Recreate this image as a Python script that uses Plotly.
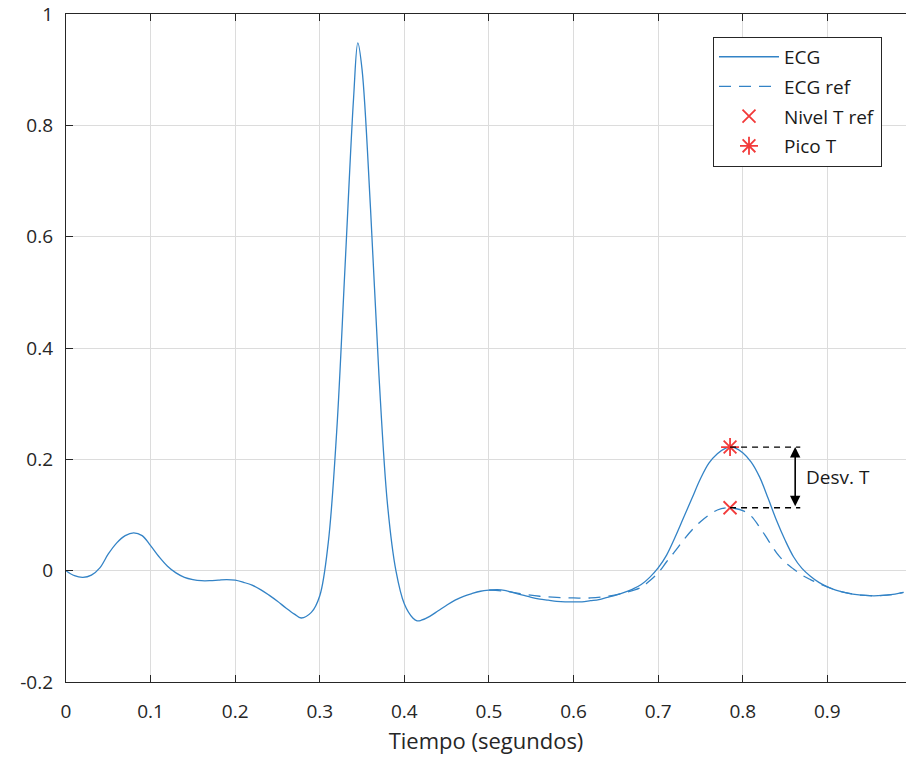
import plotly.graph_objects as go

# ---- data ----
t_ecg = [0.00, 0.01, 0.02, 0.03, 0.04, 0.05, 0.06, 0.07, 0.08, 0.09,
         0.10, 0.11, 0.12, 0.13, 0.14, 0.15, 0.16, 0.17, 0.18, 0.19,
         0.20, 0.21, 0.22, 0.23, 0.24, 0.25, 0.26, 0.27, 0.278, 0.29,
         0.30, 0.31, 0.32, 0.33, 0.34, 0.345, 0.35, 0.36, 0.37, 0.38,
         0.39, 0.40, 0.41, 0.415, 0.42, 0.43, 0.44, 0.45, 0.46, 0.47,
         0.48, 0.49, 0.50, 0.51, 0.52, 0.53, 0.54, 0.55, 0.56, 0.57,
         0.58, 0.59, 0.60, 0.61, 0.62, 0.63, 0.64, 0.65, 0.66, 0.67,
         0.68, 0.69, 0.70, 0.71, 0.72, 0.73, 0.74, 0.75, 0.76, 0.77,
         0.78, 0.785, 0.79, 0.80, 0.81, 0.82, 0.83, 0.84, 0.85, 0.86,
         0.87, 0.88, 0.89, 0.90, 0.91, 0.92, 0.93, 0.94, 0.95, 0.96,
         0.97, 0.98, 0.99]
ecg = [0.000, -0.009, -0.012, -0.008, 0.005, 0.030, 0.050, 0.063, 0.068, 0.063,
       0.045, 0.025, 0.008, -0.004, -0.012, -0.016, -0.018, -0.018, -0.017, -0.016,
       -0.017, -0.021, -0.026, -0.034, -0.044, -0.055, -0.067, -0.078, -0.085, -0.075,
       -0.045, 0.050, 0.250, 0.550, 0.850, 0.948, 0.900, 0.650, 0.350, 0.120,
       0.000, -0.060, -0.085, -0.090, -0.089, -0.082, -0.072, -0.062, -0.053, -0.046,
       -0.041, -0.037, -0.035, -0.034, -0.036, -0.040, -0.044, -0.048, -0.051, -0.053,
       -0.055, -0.056, -0.056, -0.056, -0.054, -0.052, -0.048, -0.044, -0.039, -0.033,
       -0.025, -0.012, 0.005, 0.028, 0.060, 0.095, 0.130, 0.165, 0.193, 0.210,
       0.220, 0.222, 0.221, 0.212, 0.195, 0.168, 0.130, 0.090, 0.055, 0.025,
       0.004, -0.010, -0.021, -0.029, -0.035, -0.039, -0.042, -0.044, -0.045, -0.045,
       -0.044, -0.042, -0.039]

t_ref = [0.50, 0.52, 0.54, 0.56, 0.58, 0.60, 0.62, 0.64, 0.66, 0.68,
         0.69, 0.70, 0.71, 0.72, 0.73, 0.74, 0.75, 0.76, 0.77, 0.78,
         0.785, 0.79, 0.80, 0.81, 0.82, 0.83, 0.84, 0.85, 0.86, 0.87,
         0.88, 0.89, 0.90, 0.91, 0.92, 0.93, 0.94, 0.95, 0.96, 0.97,
         0.98, 0.99]
ecg_ref = [-0.035, -0.037, -0.042, -0.046, -0.048, -0.049, -0.049, -0.046, -0.040, -0.030,
           -0.018, -0.004, 0.016, 0.035, 0.055, 0.073, 0.088, 0.100, 0.109, 0.113,
           0.113, 0.112, 0.108, 0.098, 0.078, 0.055, 0.032, 0.015, 0.003, -0.008,
           -0.016, -0.023, -0.029, -0.035, -0.039, -0.042, -0.044, -0.045, -0.045, -0.044,
           -0.042, -0.039]

t_peak = 0.785
nivel_t_ref = 0.113
pico_t = 0.222

x_ticks = [0, 0.1, 0.2, 0.3, 0.4, 0.5, 0.6, 0.7, 0.8, 0.9]
x_tick_labels = ["0", "0.1", "0.2", "0.3", "0.4", "0.5", "0.6", "0.7", "0.8", "0.9"]
y_ticks = [-0.2, 0, 0.2, 0.4, 0.6, 0.8, 1]
y_tick_labels = ["-0.2", "0", "0.2", "0.4", "0.6", "0.8", "1"]

# ---- style ----
BLUE = "#3383c6"
RED = "#f23a3a"
AX = "#262626"
GRID = "#dcdcdc"
FONT = "Open Sans"

fig = go.Figure()
fig.add_trace(go.Scatter(x=t_ecg, y=ecg, mode="lines", name="ECG", legendgroup="a",
                         line=dict(color=BLUE, width=1.3, shape="spline")))
fig.add_trace(go.Scatter(x=t_ref, y=ecg_ref, mode="lines", name="ECG ref", legendgroup="b",
                         line=dict(color=BLUE, width=1.3, shape="spline", dash="12px,8px")))
fig.add_trace(go.Scatter(x=[t_peak], y=[nivel_t_ref], mode="markers", name="Nivel T ref",
                         legendgroup="c",
                         marker=dict(symbol="x-thin-open", size=13, color=RED,
                                     line=dict(color=RED, width=1.8))))
fig.add_trace(go.Scatter(x=[t_peak], y=[pico_t], mode="markers", name="Pico T",
                         legendgroup="d",
                         marker=dict(symbol="asterisk-open", size=15, color=RED,
                                     line=dict(color=RED, width=1.8))))

# annotation: dashed guide lines and double arrow
x_arrow = 0.862
for yv in (pico_t, nivel_t_ref):
    fig.add_shape(type="line", x0=t_peak, x1=x_arrow + 0.006, y0=yv, y1=yv,
                  line=dict(color="black", width=1.4, dash="6px,5px"))
fig.add_annotation(x=x_arrow, y=pico_t, ax=x_arrow, ay=nivel_t_ref,
                   xref="x", yref="y", axref="x", ayref="y", text="",
                   showarrow=True, arrowhead=2, arrowside="end+start",
                   arrowsize=1.3, arrowwidth=1.6, arrowcolor="black")
fig.add_annotation(x=x_arrow + 0.011, y=(pico_t + nivel_t_ref) / 2, text="Desv. T",
                   xref="x", yref="y", showarrow=False, xanchor="left",
                   font=dict(family=FONT, size=19, color="#1a1a1a"))

fig.update_layout(
    width=906, height=767,
    margin=dict(l=66, r=0, t=14, b=85),
    paper_bgcolor="white", plot_bgcolor="white",
    font=dict(family=FONT, size=18, color=AX),
    legend=dict(x=0.770, y=0.966, xanchor="left", yanchor="top",
                bgcolor="white", bordercolor=AX, borderwidth=1.2,
                font=dict(family=FONT, size=19, color="#1a1a1a"),
                itemwidth=60, tracegroupgap=2),
    showlegend=True,
)
fig.update_xaxes(range=[0, 0.993], tickvals=x_ticks, ticktext=x_tick_labels,
                 showgrid=True, gridcolor=GRID, gridwidth=1,
                 showline=True, linecolor=AX, linewidth=1.3, mirror="ticks",
                 ticks="inside", ticklen=7, tickcolor=AX, tickwidth=1.3,
                 ticklabelstandoff=12,
                 zeroline=False, tickfont=dict(size=19, color=AX),
                 title=dict(text="Tiempo (segundos)", font=dict(size=22, color=AX), standoff=10))
fig.update_yaxes(range=[-0.2, 1], tickvals=y_ticks, ticktext=y_tick_labels,
                 showgrid=True, gridcolor=GRID, gridwidth=1,
                 showline=True, linecolor=AX, linewidth=1.3,
                 ticks="inside", ticklen=7, tickcolor=AX, tickwidth=1.3,
                 ticklabelstandoff=8,
                 zeroline=False, tickfont=dict(size=19, color=AX))

fig.write_html("out.html", config={"displayModeBar": False},
               post_script="document.body.style.margin='0';")
